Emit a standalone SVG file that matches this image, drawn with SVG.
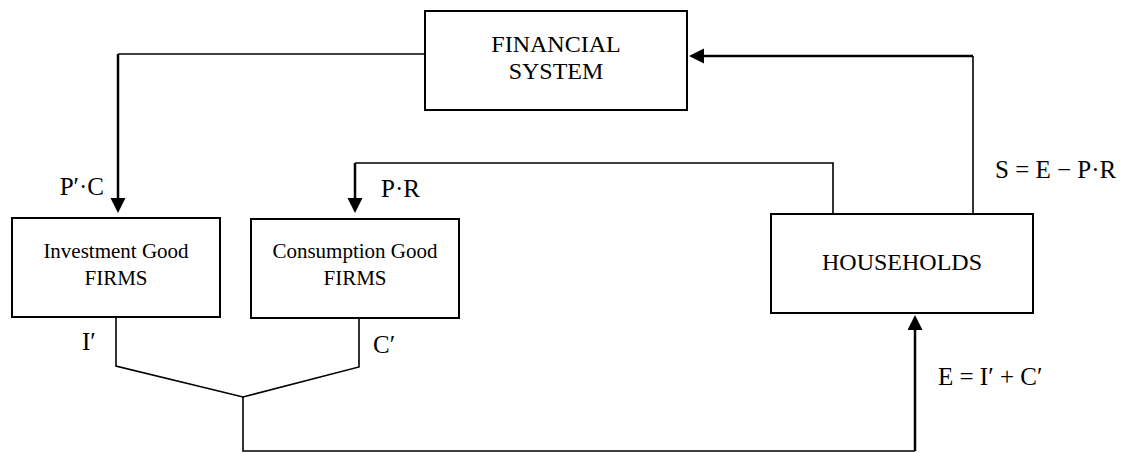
<svg xmlns="http://www.w3.org/2000/svg" width="1127" height="453" viewBox="0 0 1127 453">
<style>
  .box { fill: #ffffff; stroke: #000000; stroke-width: 2; }
  .t24 { font-family: "Liberation Serif", "Times New Roman", serif; font-size: 24px; fill: #000000; }
  .t25 { font-family: "Liberation Serif", "Times New Roman", serif; font-size: 25px; fill: #000000; }
  .t21 { font-family: "Liberation Serif", "Times New Roman", serif; font-size: 21px; fill: #000000; }
  .ln { fill: none; stroke: #000000; stroke-width: 1.6; }
  .arr { fill: none; stroke: #000000; stroke-width: 2.5; marker-end: url(#ah); }
</style>
<defs>
  <marker id="ah" markerUnits="userSpaceOnUse" markerWidth="16" markerHeight="16" refX="11" refY="7.5" orient="auto">
    <path d="M0,0 L15,7.5 L0,15 Z" fill="#000000"/>
  </marker>
</defs>
<rect x="0" y="0" width="1127" height="453" fill="#ffffff"/>

<g id="connectors">
  <polyline class="ln" points="425,54 118,54"/>
  <polyline class="arr" points="118,54 118,209"/>
  <polyline class="ln" points="833,214 833,163 355,163"/>
  <polyline class="arr" points="355,163 355,209"/>
  <polyline class="ln" points="973,214 973,56"/>
  <polyline class="arr" points="973,56 693,56"/>
  <polyline class="ln" points="116,317 116,366 243,397 359,367 359,318"/>
  <polyline class="ln" points="243,397 243,451 915,451"/>
  <polyline class="arr" points="915,451 915,319"/>
</g>

<g id="financial-system">
  <rect class="box" x="425" y="11" width="262" height="99"/>
  <text class="t24" x="556" y="52" text-anchor="middle">FINANCIAL</text>
  <text class="t24" x="556" y="79" text-anchor="middle">SYSTEM</text>
</g>

<g id="investment-firms">
  <rect class="box" x="12" y="218" width="208" height="99"/>
  <text class="t21" x="116" y="258" text-anchor="middle">Investment Good</text>
  <text class="t21" x="116" y="285" text-anchor="middle">FIRMS</text>
</g>

<g id="consumption-firms">
  <rect class="box" x="251" y="219" width="208" height="99"/>
  <text class="t21" x="355" y="258" text-anchor="middle">Consumption Good</text>
  <text class="t21" x="355" y="285" text-anchor="middle">FIRMS</text>
</g>

<g id="households">
  <rect class="box" x="771" y="214" width="262" height="99"/>
  <text class="t24" x="902" y="270" text-anchor="middle">HOUSEHOLDS</text>
</g>

<g id="labels">
  <text class="t25" x="104" y="195" text-anchor="end">P′·C</text>
  <text class="t25" x="381" y="197">P·R</text>
  <text class="t25" x="995" y="178">S = E − P·R</text>
  <text class="t25" x="82" y="350">I′</text>
  <text class="t25" x="373" y="353">C′</text>
  <text class="t25" x="938" y="385">E = I′ + C′</text>
</g>
</svg>
